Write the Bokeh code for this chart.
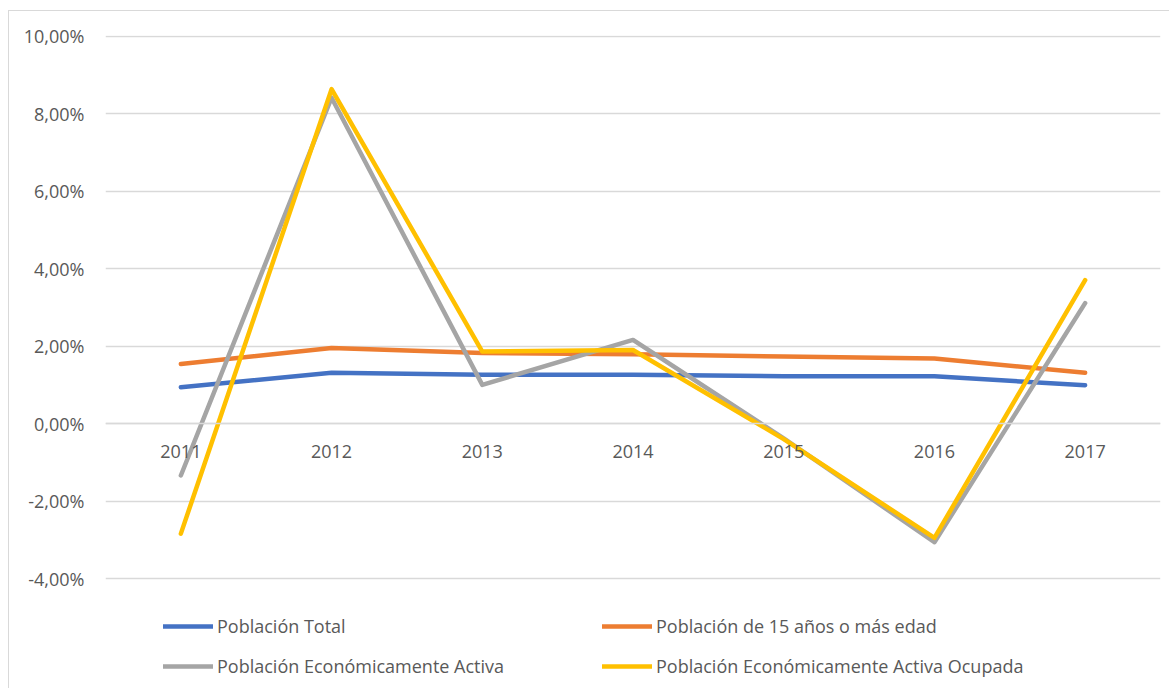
from bokeh.plotting import figure
from bokeh.models import (FactorRange, Range1d, FixedTicker, CustomJSTickFormatter,
                          Legend, LegendItem)
from bokeh.embed import file_html
from bokeh.resources import INLINE

years = ["2011", "2012", "2013", "2014", "2015", "2016", "2017"]
poblacion_total = [0.94, 1.31, 1.26, 1.26, 1.22, 1.22, 0.99]
poblacion_15 = [1.54, 1.95, 1.82, 1.79, 1.73, 1.68, 1.31]
pea = [-1.34, 8.41, 1.00, 2.16, -0.38, -3.06, 3.11]
pea_ocupada = [-2.84, 8.63, 1.86, 1.90, -0.40, -2.95, 3.70]
y_ticks = [-4, -2, 0, 2, 4, 6, 8, 10]

series_names = ["Población Total", "Población de 15 años o más edad",
                "Población Económicamente Activa", "Población Económicamente Activa Ocupada"]
colors = ["#4472C4", "#ED7D31", "#A5A5A5", "#FFC000"]

FONT = "Open Sans"
TXT = "#595959"
GRID = "#d9d9d9"

# frame: 10% gridline at top; range extended below -4 so the legend area lies inside the frame
px_per_unit = 543.0 / 14.0
y_bottom = -4 - 111 / px_per_unit
y_top = 10 + 0.6 / px_per_unit

p = figure(width=1161, height=678, x_range=FactorRange(*years), y_range=Range1d(y_bottom, y_top),
           output_backend="svg", toolbar_location=None,
           min_border_left=96, min_border_right=10, min_border_top=24, min_border_bottom=0)
p.styles = {"border-top": "1px solid #d9d9d9", "border-left": "1px solid #d9d9d9",
            "margin-left": "8px", "margin-top": "10px"}
p.outline_line_color = None
p.background_fill_color = "white"
p.border_fill_color = "white"

renderers = []
for name, vals, c in zip(series_names, [poblacion_total, poblacion_15, pea, pea_ocupada], colors):
    r = p.line(years, vals, line_color=c, line_width=4.5, line_cap="round", line_join="round")
    renderers.append(r)

# y axis
p.yaxis.ticker = FixedTicker(ticks=y_ticks)
p.yaxis.formatter = CustomJSTickFormatter(code="return tick.toFixed(2).replace('.', ',') + '%';")
p.yaxis.axis_line_color = None
p.yaxis.major_tick_line_color = None
p.yaxis.minor_tick_line_color = None
p.yaxis.major_label_text_font = FONT
p.yaxis.major_label_text_font_size = "18px"
p.yaxis.major_label_text_color = TXT
p.yaxis.major_label_standoff = 15

p.ygrid.ticker = FixedTicker(ticks=y_ticks)
p.ygrid.grid_line_color = GRID
p.ygrid.grid_line_width = 1.5
p.xgrid.grid_line_color = None

# x axis crossing at zero
p.xaxis.fixed_location = 0
p.xaxis.axis_line_color = GRID
p.xaxis.axis_line_width = 1.5
p.xaxis.major_tick_line_color = None
p.xaxis.minor_tick_line_color = None
p.xaxis.major_label_text_font = FONT
p.xaxis.major_label_text_font_size = "18px"
p.xaxis.major_label_text_color = TXT
p.xaxis.major_label_standoff = 15


def make_legend(idx, x, y):
    return Legend(items=[LegendItem(label=series_names[i], renderers=[renderers[i]]) for i in idx],
                  location=(x, y), orientation="vertical",
                  label_text_font=FONT, label_text_font_size="18px", label_text_color=TXT,
                  glyph_width=50, glyph_height=20, label_height=20, spacing=16,
                  label_standoff=4, padding=0, margin=0,
                  border_line_color=None, background_fill_alpha=0)


p.add_layout(make_legend([0, 2], 58, 11), "center")
p.add_layout(make_legend([1, 3], 497, 11), "center")

open("out.html", "w").write(file_html(p, INLINE))
